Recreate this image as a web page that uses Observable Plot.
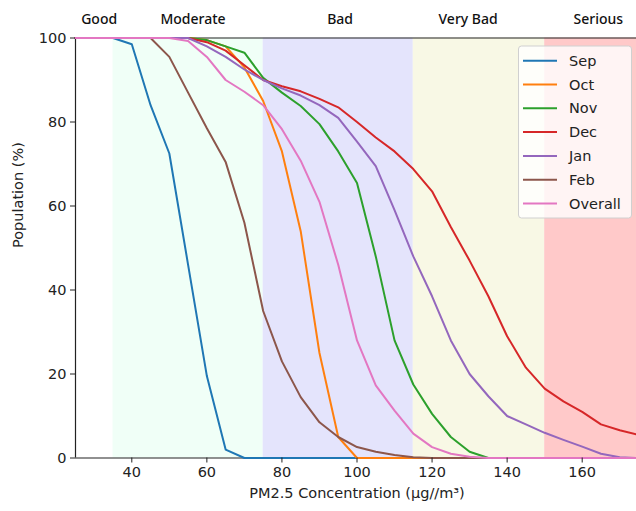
<!DOCTYPE html>
<html>
<head>
<meta charset="utf-8">
<script src="https://cdn.jsdelivr.net/npm/d3@7"></script>
<script src="https://cdn.jsdelivr.net/npm/@observablehq/plot@0.6"></script>
<style>
  html, body { margin: 0; padding: 0; background: #fff; }
  #chart { width: 636px; height: 511px; }
</style>
</head>
<body>
<div id="chart"></div>
<script>
// ---- Data ----
const pm = [25,30,35,40,45,50,55,60,65,70,75,80,85,90,95,100,105,110,115,120,125,130,135,140,145,150,155,160,165,170,175];

const seriesNames = ["Sep","Oct","Nov","Dec","Jan","Feb","Overall"];
const seriesColors = ["#1f77b4","#ff7f0e","#2ca02c","#d62728","#9467bd","#8c564b","#e377c2"];

const sep = [100,100,100,98.5,84,72.5,46,19.5,2,0,0,0,0,0,0,0,0,0,0,0,0,0,0,0,0,0,0,0,0,0,0];
const oct = [100,100,100,100,100,100,100,99.5,98,93,85,73,54,25,5,0,0,0,0,0,0,0,0,0,0,0,0,0,0,0,0];
const nov = [100,100,100,100,100,100,100,99.5,98,96.5,90.5,87,83.8,79.5,73,65.5,48,28,17.5,10.5,5,1.5,0,0,0,0,0,0,0,0,0];
const dec = [100,100,100,100,100,100,100,99,97,93.5,90,88.5,87.3,85.5,83.5,80,76.3,73,68.8,63.5,55,47,38.5,29,21.5,16.5,13.5,11,8,6.6,5.5];
const jan = [100,100,100,100,100,100,100,98,95.5,92.5,90,88,86.3,84,81,75.3,69.5,59,48,38.5,28,20,14.7,10,8,6,4.3,2.7,1,0.2,0];
const feb = [100,100,100,100,100,95.5,87,78.5,70.5,56,35,23,14.5,8.5,5,2.6,1.5,0.7,0.2,0,0,0,0,0,0,0,0,0,0,0,0];
const overall = [100,100,100,100,100,100,99.3,95.5,90,87.2,84,78.3,70.8,61,46,28,17.3,11.3,5.8,2.6,1,0.3,0,0,0,0,0,0,0,0,0];

const seriesValues = [sep, oct, nov, dec, jan, feb, overall];

const bandNames = ["Good","Moderate","Bad","Very Bad","Serious"];
const bandStart = [25,35,75,115,150];
const bandEnd = [35,75,115,150,175];
const bandColors = ["#ffffff","#f0fff7","#e4e4fc","#f8f8e5","#ffc9c9"];
const bandLabelX = [31.3,56.3,95.5,129.6,164.3];

const xTicks = [40,60,80,100,120,140,160];
const yTicks = [0,20,40,60,80,100];

// ---- Tables ----
const tidy = [];
seriesNames.forEach((s, i) => {
  pm.forEach((x, j) => tidy.push({series: s, pm: x, pop: seriesValues[i][j]}));
});
const bands = bandNames.map((n, i) => ({name: n, x1: bandStart[i], x2: bandEnd[i], color: bandColors[i], lx: bandLabelX[i]}));

const font = "DejaVu Sans, sans-serif";

const plot = Plot.plot({
  width: 636,
  height: 511,
  marginLeft: 75,
  marginRight: -2,
  marginTop: 37.5,
  marginBottom: 53.5,
  style: {fontFamily: font, fontSize: "14.5px", color: "#222", background: "transparent"},
  x: {domain: [25, 175], ticks: xTicks, tickSize: 5, label: null},
  y: {domain: [0, 100], ticks: yTicks, tickSize: 5, label: null},
  color: {domain: seriesNames, range: seriesColors},
  marks: [
    Plot.rect(bands, {x1: "x1", x2: "x2", y1: 0, y2: 100, fill: "color"}),
    Plot.ruleY([100], {stroke: "#222", strokeWidth: 1.2}),
    Plot.ruleY([0], {stroke: "#222", strokeWidth: 1.2}),
    Plot.ruleX([25], {stroke: "#222", strokeWidth: 1.2}),
    Plot.line(tidy, {x: "pm", y: "pop", stroke: "series", strokeWidth: 2}),
    Plot.text(bands, {x: "lx", y: 100, text: "name", dy: -18, fontFamily: "Noto Sans, sans-serif", fontSize: 14, fontWeight: 500, fill: "#111"}),
    Plot.axisX({ticks: xTicks, tickSize: 5, tickPadding: 4, fontSize: 14.5, label: null}),
    Plot.axisY({ticks: yTicks, tickSize: 5, tickPadding: 4, fontSize: 14.5, label: null}),
    Plot.text(["PM2.5 Concentration (μg//m³)"], {frameAnchor: "bottom", dy: 40, fontSize: 14.5, fill: "#222"}),
    Plot.text(["Population (%)"], {frameAnchor: "left", dx: -57, rotate: -90, fontSize: 14.5, fill: "#222"})
  ]
});

document.getElementById("chart").appendChild(plot);

// ---- Legend ----
const svg = d3.select(plot);
const lg = svg.append("g").attr("font-family", font).attr("font-size", "14.5px").attr("text-anchor", "start");
lg.append("rect")
  .attr("x", 518.5).attr("y", 46).attr("width", 113).attr("height", 172)
  .attr("rx", 3).attr("fill", "rgba(255,255,255,0.8)").attr("stroke", "#d0d0d0");
seriesNames.forEach((s, i) => {
  const cy = 60.7 + i * 23.8;
  lg.append("line").attr("x1", 523).attr("x2", 557).attr("y1", cy).attr("y2", cy)
    .attr("stroke", seriesColors[i]).attr("stroke-width", 2);
  lg.append("text").attr("x", 569).attr("y", cy).attr("dy", "0.35em")
    .attr("text-anchor", "start").attr("fill", "#222").text(s);
});
</script>
</body>
</html>
